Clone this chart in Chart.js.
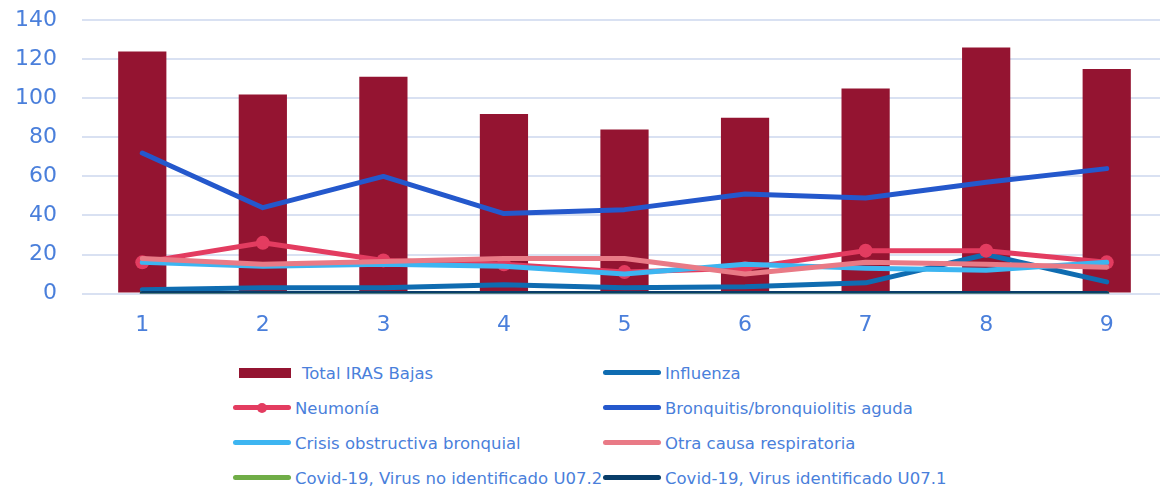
<!DOCTYPE html>
<html>
<head>
<meta charset="utf-8">
<script src="https://cdn.jsdelivr.net/npm/chart.js@4"></script>
<style>
    html, body { margin: 0; padding: 0; background: #fff; overflow: hidden; }
    #wrap { position: relative; width: 1174px; height: 366px; margin-top: -18px; }
    #legend { position: absolute; left: 0; top: 355px; width: 1160px; height: 134px;
        font-family: "DejaVu Sans", Verdana, sans-serif; font-size: 16.5px; color: #4a7fdb; }
    .item { position: absolute; height: 20px; display: flex; align-items: center; white-space: nowrap; }
    .sw { position: relative; width: 58px; height: 20px; margin-right: 4px; }
    .sw .ln { position: absolute; left: 0; right: 0; top: 7px; height: 5px; border-radius: 3px; }
    .sw .dot { position: absolute; left: 24px; top: 5px; width: 10px; height: 10px; border-radius: 50%; }
    .sw .bar { position: absolute; left: 6px; right: 0; top: 5px; height: 10px; }
</style>
</head>
<body>
<div id="wrap"><canvas id="chart"></canvas></div>
<div id="legend"></div>
<script>
var categories = ['1', '2', '3', '4', '5', '6', '7', '8', '9'];
var totalIras = [124, 102, 111, 92, 84, 90, 105, 126, 115];
var influenza = [2, 3, 3, 4.5, 3, 3.5, 5.5, 20, 6];
var neumonia = [16, 26, 17, 15, 11, 13, 22, 22, 16];
var bronquitis = [72, 44, 60, 41, 43, 51, 49, 57, 64];
var crisisObstructiva = [16, 14, 15, 14, 10, 15, 13, 12, 16];
var otraCausa = [18, 15, 16.5, 18, 18, 10, 16, 15, 13.5];
var covidNoIdentificado = [0, 0, 0, 0, 0, 0, 0, 0, 0];
var covidIdentificado = [0, 0, 0, 0, 0, 0, 0, 0, 0];
var yTicks = [0, 20, 40, 60, 80, 100, 120, 140];

var textColor = '#4a7fdb';

function lineSet(label, data, color) {
    return {
        type: 'line',
        label: label,
        data: data,
        borderColor: color,
        backgroundColor: color,
        borderWidth: 5,
        borderCapStyle: 'round',
        borderJoinStyle: 'round',
        pointRadius: 0,
        tension: 0,
    };
}

var datasets = [
    {
        type: 'bar',
        label: 'Total IRAS Bajas',
        data: totalIras,
        backgroundColor: '#941431',
        borderWidth: 0,
        barPercentage: 0.4,
        categoryPercentage: 1,
    },
    lineSet('Influenza', influenza, '#0f6cb1'),
    Object.assign(lineSet('Neumonía', neumonia, '#e33c60'), { pointRadius: 7, pointBorderWidth: 0 }),
    lineSet('Bronquitis/bronquiolitis aguda', bronquitis, '#2458cc'),
    lineSet('Crisis obstructiva bronquial', crisisObstructiva, '#3db5f1'),
    lineSet('Otra causa respiratoria', otraCausa, '#e97a86'),
    lineSet('Covid-19, Virus no identificado U07.2', covidNoIdentificado, '#70ad47'),
    lineSet('Covid-19, Virus identificado U07.1', covidIdentificado, '#083d69'),
];
datasets.forEach(function(d, i) { d.order = datasets.length - i; });

var chart = new Chart(document.getElementById('chart'), {
    data: { labels: categories, datasets: datasets },
    options: {
        responsive: true,
        maintainAspectRatio: false,
        animation: false,
        layout: { padding: { left: 0, right: 2, top: 8, bottom: 0 } },
        plugins: { legend: { display: false }, tooltip: { enabled: false } },
        scales: {
            x: {
                grid: { display: false },
                border: { display: false },
                ticks: { color: textColor, font: { family: 'DejaVu Sans', size: 22 }, padding: 10 },
            },
            y: {
                min: 0,
                max: 140,
                afterBuildTicks: function(axis) {
                    axis.ticks = yTicks.map(function(v) { return { value: v }; });
                },
                afterFit: function(axis) { axis.width = 82; },
                grid: { color: '#d9e1f2', lineWidth: 2, drawTicks: false },
                border: { display: false },
                ticks: { color: textColor, font: { family: 'DejaVu Sans', size: 22 }, padding: 25 },
            }
        }
    }
});

// HTML legend, two columns
var legend = document.getElementById('legend');
var rowsY = [8, 43, 78, 113];
var colsX = [233, 603];
chart.data.datasets.forEach(function(ds, i) {
    var item = document.createElement('div');
    item.className = 'item';
    item.style.left = colsX[i % 2] + 'px';
    item.style.top = rowsY[Math.floor(i / 2)] + 'px';
    var sw = document.createElement('div');
    sw.className = 'sw';
    if (ds.type === 'bar') {
        sw.innerHTML = '<div class="bar" style="background:' + ds.backgroundColor + '"></div>';
        sw.style.marginRight = '11px';
    } else {
        sw.innerHTML = '<div class="ln" style="background:' + ds.borderColor + '"></div>' +
            (ds.pointRadius ? '<div class="dot" style="background:' + ds.borderColor + '"></div>' : '');
    }
    var txt = document.createElement('span');
    txt.textContent = ds.label;
    item.appendChild(sw);
    item.appendChild(txt);
    legend.appendChild(item);
});
</script>
</body>
</html>
